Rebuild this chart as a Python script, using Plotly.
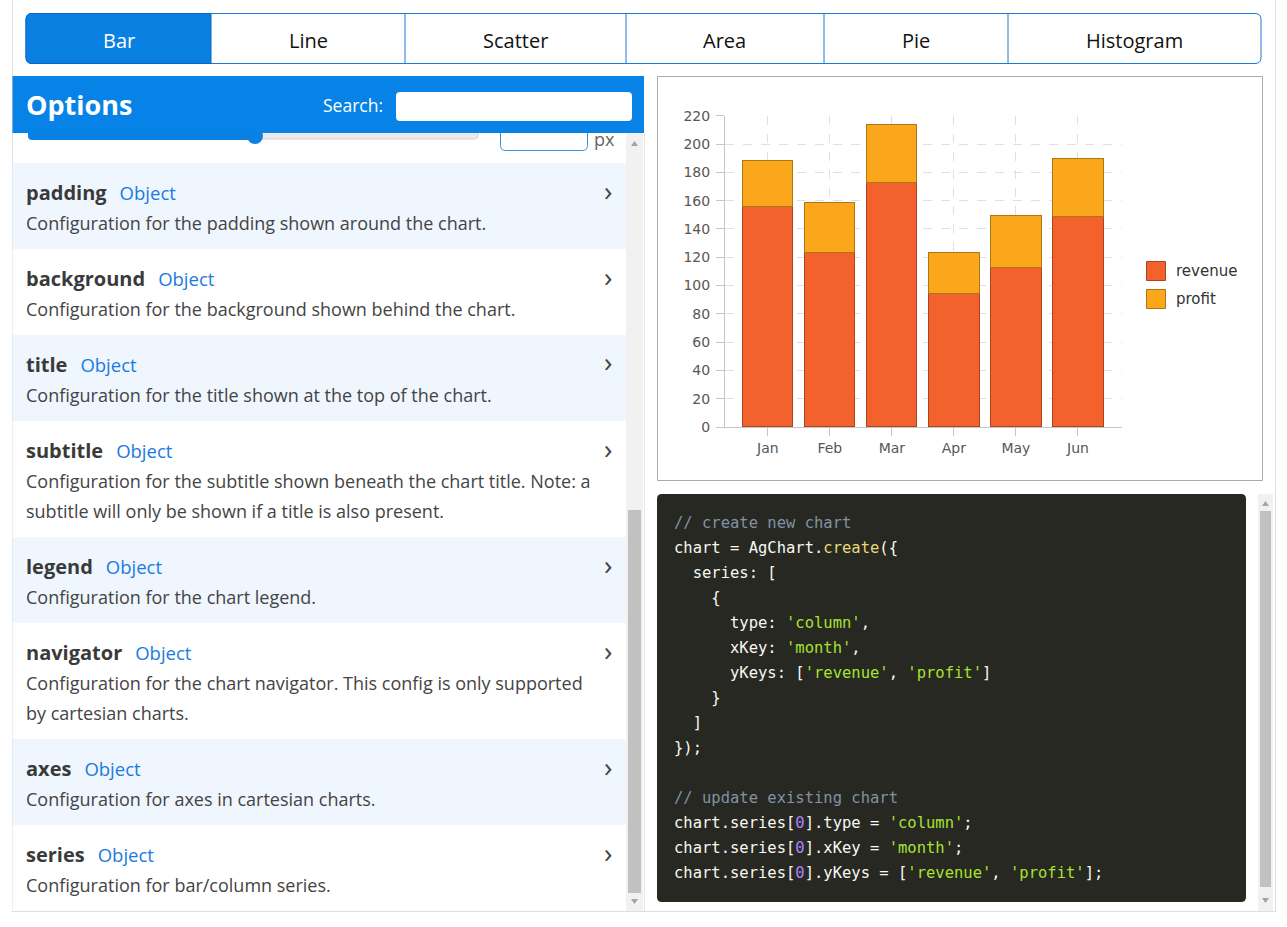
import plotly.graph_objects as go

# chart data
MONTHS = ["Jan", "Feb", "Mar", "Apr", "May", "Jun"]
REVENUE = [155.5, 123, 173, 94, 112.5, 148.5]
PROFIT = [32.5, 36, 40.5, 29, 37, 41.5]
SERIES_NAMES = ["revenue", "profit"]
Y_TICKS = [0, 20, 40, 60, 80, 100, 120, 140, 160, 180, 200, 220]

# page text
TABS = ["Bar", "Line", "Scatter", "Area", "Pie", "Histogram"]
ITEM_NAMES = ["padding", "background", "title", "subtitle", "legend",
              "navigator", "axes", "series"]
ITEM_DESCS = [
    ["Configuration for the padding shown around the chart."],
    ["Configuration for the background shown behind the chart."],
    ["Configuration for the title shown at the top of the chart."],
    ["Configuration for the subtitle shown beneath the chart title. Note: a",
     "subtitle will only be shown if a title is also present."],
    ["Configuration for the chart legend."],
    ["Configuration for the chart navigator. This config is only supported",
     "by cartesian charts."],
    ["Configuration for axes in cartesian charts."],
    ["Configuration for bar/column series."],
]
CODE = [
    [("// create new chart", "c")],
    [("chart = AgChart.", "t"), ("create", "f"), ("({", "t")],
    [("  series: [", "t")],
    [("    {", "t")],
    [("      type: ", "t"), ("'column'", "s"), (",", "t")],
    [("      xKey: ", "t"), ("'month'", "s"), (",", "t")],
    [("      yKeys: [", "t"), ("'revenue'", "s"), (", ", "t"), ("'profit'", "s"), ("]", "t")],
    [("    }", "t")],
    [("  ]", "t")],
    [("});", "t")],
    [],
    [("// update existing chart", "c")],
    [("chart.series[", "t"), ("0", "n"), ("].type = ", "t"), ("'column'", "s"), (";", "t")],
    [("chart.series[", "t"), ("0", "n"), ("].xKey = ", "t"), ("'month'", "s"), (";", "t")],
    [("chart.series[", "t"), ("0", "n"), ("].yKeys = [", "t"), ("'revenue'", "s"),
     (", ", "t"), ("'profit'", "s"), ("];", "t")],
]

FILLS = ["#f3622d", "#fba71b"]
STROKES = ["#aa4520", "#b07513"]
CODE_COLORS = {"c": "#8292a2", "f": "#e6db74", "s": "#a6e22e", "n": "#ae81ff"}
BLUE = "#0783e7"
UI_FONT = "Open Sans"
CHART_FONT = "DejaVu Sans"

# figure covers the whole window; the div is pinned to the top-left corner.
# the capture squeezes the 927px page into rows 8..919, so map y through that.
W, H = 1287, 927


def fx(x):
    return x / W


def fy(y):
    return 1 - (y - 8) / 911


def P(x, y):
    return f"{fx(x):.5f},{fy(y):.5f}"


shapes = []
annotations = []


def rect(x0, y0, x1, y1, fill=None, line=None, lw=1):
    shapes.append(dict(
        type="rect", xref="paper", yref="paper", layer="below",
        x0=fx(x0), x1=fx(x1), y0=fy(y1), y1=fy(y0),
        fillcolor=fill or "rgba(0,0,0,0)",
        line=dict(color=line or "rgba(0,0,0,0)", width=lw if line else 0),
    ))


def rrect(x0, y0, x1, y1, radii, fill=None, line=None, lw=1):
    tl, tr, br, bl = radii
    d = (f"M{P(x0 + tl, y0)} L{P(x1 - tr, y0)} Q{P(x1, y0)} {P(x1, y0 + tr)} "
         f"L{P(x1, y1 - br)} Q{P(x1, y1)} {P(x1 - br, y1)} "
         f"L{P(x0 + bl, y1)} Q{P(x0, y1)} {P(x0, y1 - bl)} "
         f"L{P(x0, y0 + tl)} Q{P(x0, y0)} {P(x0 + tl, y0)} Z")
    shapes.append(dict(
        type="path", xref="paper", yref="paper", layer="below", path=d,
        fillcolor=fill or "rgba(0,0,0,0)",
        line=dict(color=line or "rgba(0,0,0,0)", width=lw if line else 0),
    ))


def tri(pts, color):
    d = "M" + " L".join(P(x, y) for x, y in pts) + " Z"
    shapes.append(dict(type="path", xref="paper", yref="paper", layer="below",
                       path=d, fillcolor=color, line=dict(width=0)))


def hline(x0, y0, x1, y1, color, w=1):
    shapes.append(dict(type="line", xref="paper", yref="paper", layer="below",
                       x0=fx(x0), x1=fx(x1), y0=fy(y0), y1=fy(y1),
                       line=dict(color=color, width=w)))


def text(x, y, s, size, color, family=UI_FONT, anchor="left"):
    annotations.append(dict(
        xref="paper", yref="paper", x=fx(x), y=fy(y), text=s, showarrow=False,
        xanchor=anchor, yanchor="middle", borderpad=0,
        font=dict(size=size, color=color, family=family),
    ))


# page borders
hline(12.5, 0, 12.5, 911.5, "#dedede")
hline(1275.5, 0, 1275.5, 911.5, "#dedede")
hline(12, 911.5, 1276, 911.5, "#dedede")

# tab bar
TAB_EDGES = [26, 211, 405, 626, 824, 1008, 1261]
rrect(26, 13.5, 1261, 63.5, (6, 6, 6, 6), fill="white", line="#1d7ad3")
rrect(26, 13.5, 211, 63.5, (6, 0, 0, 6), fill="#0a80e3", line="#0868be")
for e in TAB_EDGES[2:-1]:
    hline(e, 13.5, e, 63.5, "#1d7ad3")
for i, name in enumerate(TABS):
    mid = (TAB_EDGES[i] + TAB_EDGES[i + 1]) / 2
    text(mid, 40, name, 20, "white" if i == 0 else "#111111", anchor="center")

# slider remnant peeking out under the header
rrect(28, 124, 255, 140, (4, 4, 4, 4), fill="#0a80e3")
rrect(255, 124, 478, 139, (4, 4, 4, 4), fill="#ebebeb", line="#cfcfcf")
shapes.append(dict(type="circle", xref="paper", yref="paper", layer="below",
                   x0=fx(247), x1=fx(263), y0=fy(144), y1=fy(128),
                   fillcolor="#0a80e3", line=dict(width=0)))
rrect(500.5, 116, 587.5, 150.5, (5, 5, 5, 5), fill="white", line="#3d8fd9")
text(593, 139, "px", 18, "#666666")

# list rows
top = 163
for i, (name, desc) in enumerate(zip(ITEM_NAMES, ITEM_DESCS)):
    h = 86 + 30 * (len(desc) - 1)
    rect(12.5, top, 626, top + h, fill="#eff6fe" if i % 2 == 0 else "white")
    text(25, top + 27,
         f"<b>{name}</b><span style=\"font-size:25px\">\u00a0\u00a0</span>"
         f"<span style=\"color:#1b7be0;font-size:18.5px\">Object</span>",
         20, "#3a3a3a")
    for j, ln in enumerate(desc):
        text(25, top + 60 + 30 * j, ln, 18, "#444444")
    text(608, top + 26.5, "\u203a", 28, "#444444", anchor="center")
    top += h

# options header
rect(12.5, 76, 644, 133, fill=BLUE)
text(24.5, 105, "<b>Options</b>", 27, "white")
text(384, 105, "Search:", 17.5, "white", anchor="right")
rrect(396, 92, 632, 121, (4, 4, 4, 4), fill="white")

# left scrollbar
rect(626, 133, 643, 911, fill="#f1f1f1")
rect(628, 510, 641, 893, fill="#c1c1c1")
tri([(631, 146), (638, 146), (634.5, 141)], "#a3a3a3")
tri([(631, 899), (638, 899), (634.5, 904)], "#a3a3a3")
hline(644.5, 133, 644.5, 911, "#e3e3e3")

# chart frame
rect(657.5, 76.5, 1262.5, 480.5, line="#aaaaaa")

# legend
for k, nm in enumerate(SERIES_NAMES):
    yy = 261 + 28 * k
    rect(1146.5, yy + 0.5, 1165.5, yy + 19.5, fill=FILLS[k], line=STROKES[k])
    text(1175, yy + 10, nm, 15, "#333333", family=CHART_FONT)

# code panel
rrect(657, 494, 1246, 902, (5, 5, 5, 5), fill="#272822")
for i, parts in enumerate(CODE):
    if not parts:
        continue
    s = ""
    for chunk, kind in parts:
        chunk = chunk.replace(" ", "\u00a0")
        if kind == "t":
            s += chunk
        else:
            s += f"<span style=\"color:{CODE_COLORS[kind]}\">{chunk}</span>"
    text(673, 523 + 25 * i, s, 15.5, "#f8f8f2", family="DejaVu Sans Mono")

# right scrollbar
rect(1258, 494, 1273, 911, fill="#f1f1f1")
rect(1260, 511, 1271, 887, fill="#c1c1c1")
tri([(1262, 506), (1269, 506), (1265.5, 501)], "#a3a3a3")
tri([(1262, 898), (1269, 898), (1265.5, 903)], "#a3a3a3")

fig = go.Figure()
for k, (nm, vals) in enumerate(zip(SERIES_NAMES, [REVENUE, PROFIT])):
    fig.add_bar(x=MONTHS, y=vals, name=nm, marker_color=FILLS[k],
                marker_line=dict(color=STROKES[k], width=1), hoverinfo="skip")

axis_common = dict(
    showline=True, linecolor="#c6c6c6", linewidth=1,
    ticks="outside", ticklen=8, tickcolor="#c6c6c6",
    showgrid=True, gridcolor="#e0e0e0", griddash="dash", gridwidth=1,
    zeroline=False, fixedrange=True,
    tickfont=dict(family=CHART_FONT, size=14, color="#575757"),
)
fig.update_layout(
    width=W, height=H,
    margin=dict(l=0, r=0, t=0, b=0),
    paper_bgcolor="white", plot_bgcolor="rgba(0,0,0,0)",
    barmode="stack", bargap=0.19, showlegend=False,
    xaxis=dict(domain=[fx(725), fx(1122)], type="category",
               categoryorder="array", categoryarray=MONTHS,
               range=[-0.69, 5.71], **axis_common),
    yaxis=dict(domain=[fy(427), fy(115.7)], range=[0, 220],
               tickvals=Y_TICKS, ticklabelstandoff=3, **axis_common),
    shapes=shapes, annotations=annotations,
)

pin = ("var gd=document.getElementById('{plot_id}');"
       "document.body.style.margin='0';document.body.style.overflow='hidden';"
       "gd.style.position='fixed';gd.style.left='0px';gd.style.top='0px';")
fig.write_html("out.html", config={"displayModeBar": False}, post_script=pin)
